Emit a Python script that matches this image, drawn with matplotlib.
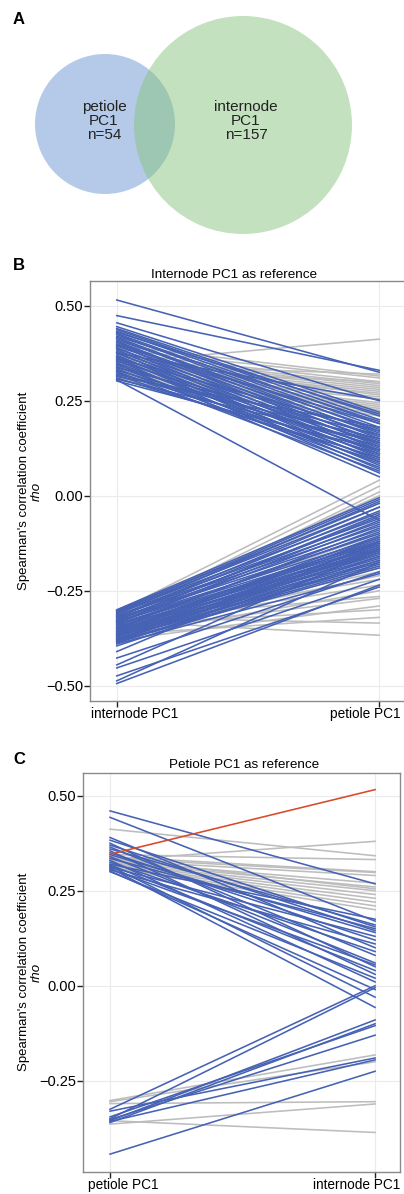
import matplotlib
matplotlib.use("Agg")
import matplotlib.pyplot as plt
from matplotlib.patches import Circle

plt.rcParams["font.family"] = ["Liberation Sans", "DejaVu Sans"]

# ---- data -------------------------------------------------------------
venn_labels = ["petiole\nPC1\nn=54", "internode\nPC1\nn=157"]

b_categories = ["internode PC1", "petiole PC1"]
c_categories = ["petiole PC1", "internode PC1"]
y_ticks = [-0.50, -0.25, 0.00, 0.25, 0.50]

# B: internode PC1 as reference (left value -> right value)
b_blue_left = [
    0.515, 0.474, 0.455, 0.445, 0.440, 0.437, 0.433, 0.430, 0.427, 0.424,
    0.420, 0.417, 0.414, 0.410, 0.407, 0.404, 0.400, 0.397, 0.394, 0.390,
    0.387, 0.384, 0.380, 0.377, 0.374, 0.370, 0.367, 0.364, 0.360, 0.357,
    0.354, 0.350, 0.347, 0.344, 0.340, 0.337, 0.334, 0.330, 0.327, 0.324,
    0.320, 0.317, 0.314, 0.310, 0.307, 0.305, 0.302, 0.375, 0.395, 0.362,
    -0.300, -0.302, -0.305, -0.307, -0.310, -0.312, -0.315, -0.317, -0.320, -0.322,
    -0.325, -0.327, -0.330, -0.332, -0.335, -0.337, -0.340, -0.342, -0.345, -0.347,
    -0.350, -0.352, -0.355, -0.357, -0.360, -0.362, -0.365, -0.367, -0.370, -0.372,
    -0.375, -0.377, -0.380, -0.382, -0.385, -0.388, -0.410, -0.427, -0.445, -0.453,
    -0.474, -0.487, -0.494, -0.318, -0.333, -0.348, -0.363, -0.378, -0.390, -0.395,
    -0.304, -0.328, -0.358, -0.368, -0.383,
]
b_blue_right = [
    0.325, 0.330, 0.250, 0.220, 0.210, 0.200, 0.190, 0.215, 0.180, 0.170,
    0.195, 0.160, 0.150, 0.175, 0.140, 0.130, 0.165, 0.120, 0.155, 0.110,
    0.145, 0.100, 0.135, 0.090, 0.125, 0.080, 0.115, 0.070, 0.105, 0.060,
    0.140, 0.095, 0.050, 0.120, 0.085, 0.160, 0.075, 0.130, 0.065, 0.110,
    0.150, 0.090, 0.180, 0.100, 0.140, -0.065, 0.120, 0.252, 0.190, 0.170,
    -0.005, -0.020, -0.030, -0.045, -0.060, -0.015, -0.070, -0.080, -0.040, -0.090,
    -0.100, -0.055, -0.110, -0.120, -0.075, -0.125, -0.130, -0.095, -0.135, -0.140,
    -0.115, -0.145, -0.150, -0.105, -0.155, -0.160, -0.130, -0.165, -0.170, -0.140,
    -0.175, -0.180, -0.150, -0.185, -0.190, -0.160, -0.120, -0.200, -0.140, -0.220,
    -0.240, -0.175, -0.235, -0.030, -0.065, -0.085, -0.110, -0.125, -0.205, -0.170,
    -0.010, -0.050, -0.120, -0.145, -0.135,
]
b_grey_left = [
    0.350, 0.395, 0.385, 0.375, 0.365, 0.360, 0.352, 0.345, 0.340, 0.335,
    0.330, 0.325, 0.322, 0.318, 0.315, 0.312, 0.340, 0.330, 0.320, 0.310,
    0.345, 0.333, 0.355, 0.305,
    -0.305, -0.315, -0.325, -0.310, -0.330, -0.340, -0.318, -0.345, -0.352, -0.360,
    -0.335, -0.370, -0.325, -0.355, -0.380, -0.340, -0.365, -0.320, -0.330, -0.345,
    -0.375, -0.312, -0.350,
]
b_grey_right = [
    0.412, 0.315, 0.310, 0.300, 0.295, 0.290, 0.285, 0.280, 0.275, 0.270,
    0.260, 0.255, 0.245, 0.240, 0.235, 0.230, 0.225, 0.220, 0.215, 0.210,
    0.320, 0.300, 0.265, 0.200,
    0.041, 0.025, 0.010, -0.020, -0.050, -0.100, -0.160, -0.185, -0.200, -0.210,
    -0.220, -0.250, -0.265, -0.270, -0.290, -0.300, -0.320, -0.335, -0.367, -0.235,
    -0.150, 0.000, -0.190,
]

# C: petiole PC1 as reference
c_blue_left = [
    0.460, 0.443, 0.390, 0.383, 0.375, 0.370, 0.365, 0.360, 0.355, 0.350,
    0.345, 0.340, 0.335, 0.330, 0.325, 0.320, 0.318, 0.315, 0.312, 0.310,
    0.307, 0.305, 0.302, 0.300,
    -0.325, -0.350, -0.355, -0.360, -0.345, -0.352, -0.330, -0.357, -0.443,
]
c_blue_right = [
    0.268, 0.170, 0.100, 0.155, 0.050, 0.145, 0.080, 0.160, 0.030, 0.120,
    0.140, 0.060, 0.150, 0.010, 0.090, 0.175, 0.040, -0.030, 0.130, -0.057,
    0.055, 0.110, -0.010, 0.020,
    0.000, -0.005, -0.090, -0.100, -0.105, -0.130, -0.190, -0.195, -0.225,
]
c_grey_left = [
    0.412, 0.330, 0.345, 0.340, 0.335, 0.330, 0.328, 0.325, 0.322, 0.320,
    0.317, 0.315, 0.312, 0.310, 0.335,
    -0.302, -0.305, -0.310, -0.364, -0.355,
]
c_grey_right = [
    0.342, 0.380, 0.332, 0.300, 0.298, 0.290, 0.270, 0.260, 0.250, 0.240,
    0.230, 0.220, 0.210, 0.200, 0.255,
    -0.182, -0.200, -0.305, -0.311, -0.386,
]
c_red_left = [0.346]
c_red_right = [0.516]

BLUE = "#4662b4"
GREY = "#bdbdbd"
RED = "#d9492c"

W, H = 404, 1194
PT = 0.72  # points per pixel at dpi 100


def box(l, t, r, b):
    """pixel box -> figure fraction rect"""
    return [l / W, 1 - b / H, (r - l) / W, (b - t) / H]


def slope_panel(ax, cats, xlim, ylim, groups, lab_dx):
    ax.set_facecolor("white")
    ax.grid(True, color="#ebebeb", lw=0.8, zorder=0)
    ax.set_axisbelow(True)
    for left, right, color in groups:
        for a, b in zip(left, right):
            ax.plot([1, 2], [a, b], color=color, lw=1.15, zorder=2)
    ax.set_xlim(*xlim)
    ax.set_ylim(*ylim)
    ax.set_xticks([1, 2])
    ax.set_xticklabels([])
    # category labels are pushed inwards to fit the panel, like the original
    for x, cat, dx, ha in zip([1, 2], cats, lab_dx, ["left", "right"]):
        ax.annotate(cat, xy=(x, 0), xycoords=("data", "axes fraction"),
                    xytext=(dx * PT, -6 * PT), textcoords="offset points",
                    ha=ha, va="top", fontsize=9.8, annotation_clip=False)
    ticks = [t for t in y_ticks if ylim[0] <= t <= ylim[1]]
    ax.set_yticks(ticks)
    ax.set_yticklabels([f"{v:.2f}".replace("-", "\u2212") for v in ticks], fontsize=10.5)
    ax.tick_params(length=4.3, width=1, color="#222222", pad=0.5)
    for s in ax.spines.values():
        s.set_color("#8a8a8a")
        s.set_linewidth(1)


fig = plt.figure(figsize=(W / 100, H / 100), dpi=100)

# ---- A: venn ----------------------------------------------------------
ax_a = fig.add_axes(box(0, 0, 404, 250))
ax_a.set_xlim(0, W)
ax_a.set_ylim(250, 0)
ax_a.axis("off")
ax_a.add_patch(Circle((105, 124), 70, color="#6b97d3", alpha=0.5, lw=0))
ax_a.add_patch(Circle((243, 125), 109, color="#89c57f", alpha=0.5, lw=0))
ax_a.text(104, 121, venn_labels[0], ha="center", va="center", fontsize=11,
          linespacing=1.0, color="#222222")
ax_a.text(246, 121, venn_labels[1], ha="center", va="center", fontsize=11,
          linespacing=1.0, color="#222222")

# ---- B ----------------------------------------------------------------
ax_b = fig.add_axes(box(90, 281, 406, 701))
slope_panel(ax_b, b_categories, (0.898, 2.102), (-0.54, 0.565),
            [(b_grey_left, b_grey_right, GREY), (b_blue_left, b_blue_right, BLUE)],
            (-26, 21))

# ---- C ----------------------------------------------------------------
ax_c = fig.add_axes(box(83, 773, 400, 1172))
slope_panel(ax_c, c_categories, (0.898, 2.094), (-0.490, 0.5597),
            [(c_grey_left, c_grey_right, GREY), (c_blue_left, c_blue_right, BLUE),
             (c_red_left, c_red_right, RED)],
            (-22, 25))

# titles, panel letters, y labels
fig.text(234 / W, 1 - 275 / H, "Internode PC1 as reference", ha="center",
         va="center", fontsize=9.7)
fig.text(244 / W, 1 - 765 / H, "Petiole PC1 as reference", ha="center",
         va="center", fontsize=9.7)
for letter, y in [("A", 20), ("B", 266), ("C", 760)]:
    fig.text(13 / W, 1 - y / H, letter, fontsize=12, fontweight="bold",
             va="center", ha="left")
for yc in [491, 972]:
    fig.text(24 / W, 1 - yc / H, "Spearman's correlation coefficient",
             rotation=90, ha="center", va="center", fontsize=9.5)
    fig.text(37 / W, 1 - yc / H, "rho", style="italic", rotation=90,
             ha="center", va="center", fontsize=9.5)

fig.savefig("out.png", dpi=100)
